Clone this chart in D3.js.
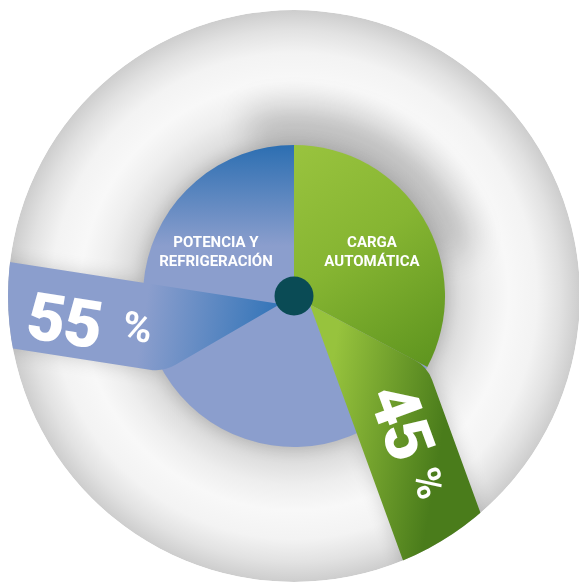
<!DOCTYPE html>
<html>
<head>
<meta charset="utf-8">
<script src="https://cdn.jsdelivr.net/npm/d3@7"></script>
<style>
  html, body { margin: 0; padding: 0; background: #fff; }
  text { font-family: Roboto, "Open Sans", sans-serif; fill: #fff; }
</style>
</head>
<body>
<div class="graph-view"></div>
<script>
// data
const categories = ['CARGA AUTOMÁTICA', 'POTENCIA Y REFRIGERACIÓN'];
const values = [45, 55];
const labelLines = [['CARGA', 'AUTOMÁTICA'], ['POTENCIA Y', 'REFRIGERACIÓN']];
const pctLabels = ['45', '55'];

const w = 579, h = 582;
const cx = 294, cy = 296;
const discR = 286, pieR = 151, dotR = 19.5;
const rad = Math.PI / 180;

const svg = d3.select('.graph-view').append('svg')
  .attr('width', w)
  .attr('height', h);

const defs = svg.append('defs');

// background disc gradient
const rg = defs.append('radialGradient')
  .attr('id', 'disc')
  .attr('gradientUnits', 'userSpaceOnUse')
  .attr('cx', cx).attr('cy', cy).attr('r', discR);
[[0.5, '#c9c9c9'], [0.57, '#dcdcdc'], [0.66, '#eeeeee'], [0.75, '#f8f8f8'],
 [0.85, '#f3f3f3'], [0.93, '#e2e2e2'], [1, '#cdcdcd']].forEach(function(s) {
  rg.append('stop').attr('offset', s[0]).attr('stop-color', s[1]);
});

function linGrad(id, x1, y1, x2, y2, stops) {
  const g = defs.append('linearGradient')
    .attr('id', id)
    .attr('gradientUnits', 'userSpaceOnUse')
    .attr('x1', x1).attr('y1', y1).attr('x2', x2).attr('y2', y2);
  stops.forEach(function(s) {
    g.append('stop').attr('offset', s[0]).attr('stop-color', s[1]);
  });
}

// sectors (coords relative to centre)
linGrad('greenSector', -10, -150, 150, 80, [[0, '#9ac43f'], [0.45, '#86b532'], [1, '#5a911d']]);
linGrad('blueSector', 0, -150, 0, -50, [[0, '#2d6fb2'], [1, '#8b9ecd']]);
// ribbons (ribbon frame: x along ribbon, y across)
linGrad('greenRibbon', 90, -5, 150, -110, [[0, '#97c33d'], [1, '#4a7c1b']]);
linGrad('blueRibbon', 18, 0, 145, 0, [[0, '#3676b9'], [1, '#8b9ecd']]);

defs.append('filter')
  .attr('id', 'blur')
  .attr('x', '-30%').attr('y', '-30%').attr('width', '160%').attr('height', '160%')
  .append('feGaussianBlur').attr('stdDeviation', 9);

defs.append('filter')
  .attr('id', 'blurWide')
  .attr('x', '-50%').attr('y', '-50%').attr('width', '200%').attr('height', '200%')
  .append('feGaussianBlur').attr('stdDeviation', 16);

defs.append('clipPath').attr('id', 'discClip')
  .append('circle').attr('cx', cx).attr('cy', cy).attr('r', discR);

// pie angles
const pie = d3.pie().sort(null).value(function(d) { return d; });
const arcs = pie(values);

const green = arcs[0], blue = arcs[1];
const greenDir = green.endAngle - 2 * rad;      // ribbon heading
const greenSpread = 42 * rad;
const blueDir = blue.startAngle + 0.59 * (blue.endAngle - blue.startAngle);
const blueSpread = 39 * rad;
const greenEdge = greenDir - greenSpread;

const arc = d3.arc().innerRadius(0).outerRadius(pieR);

// ribbon outline in its own frame
function ribbonPath(spread, s1) {
  const s2 = pieR * Math.sin(spread),
    xc = pieR * Math.cos(spread),
    x0 = s1 / Math.tan(spread),
    k = 14,
    far = 330;
  const p = d3.path();
  p.moveTo(x0, -s1);
  p.lineTo(far, -s1);
  p.lineTo(far, -s2);
  p.lineTo(xc + k, -s2);
  p.quadraticCurveTo(xc, -s2, (pieR - k) * Math.cos(spread), -(pieR - k) * Math.sin(spread));
  p.closePath();
  return p.toString();
}

function frame(dir) {
  return 'translate(' + cx + ',' + cy + ') rotate(' + (dir / rad - 90) + ')';
}

function drawShapes(g, shadow) {
  g.append('path')
    .attr('transform', 'translate(' + cx + ',' + cy + ')')
    .attr('d', arc({startAngle: greenEdge, endAngle: blue.endAngle}))
    .attr('fill', shadow ? '#000' : 'url(#blueSector)');
  g.append('path')
    .attr('transform', frame(blueDir))
    .attr('d', ribbonPath(blueSpread, 10))
    .attr('fill', shadow ? '#000' : 'url(#blueRibbon)');
  g.append('path')
    .attr('transform', 'translate(' + cx + ',' + cy + ')')
    .attr('d', arc({startAngle: green.startAngle, endAngle: greenEdge}))
    .attr('fill', shadow ? '#000' : 'url(#greenSector)');
  g.append('path')
    .attr('transform', frame(greenDir))
    .attr('d', ribbonPath(greenSpread, 12))
    .attr('fill', shadow ? '#000' : 'url(#greenRibbon)');
}

const chart = svg.append('g').attr('clip-path', 'url(#discClip)');

chart.append('circle')
  .attr('cx', cx).attr('cy', cy).attr('r', discR)
  .attr('fill', 'url(#disc)');

// soft shade above the top-right of the pie
chart.append('path')
  .attr('transform', 'translate(' + cx + ',' + cy + ')')
  .attr('d', d3.arc().innerRadius(150).outerRadius(190)({startAngle: -15 * rad, endAngle: 75 * rad}))
  .attr('fill', '#000')
  .attr('opacity', 0.16)
  .attr('filter', 'url(#blurWide)');

const shadowG = chart.append('g')
  .attr('filter', 'url(#blur)')
  .attr('opacity', 0.16);
drawShapes(shadowG, true);

drawShapes(chart.append('g'), false);

// centre dot
svg.append('circle')
  .attr('cx', cx).attr('cy', cy).attr('r', dotR)
  .attr('fill', '#0a4b55');

// category labels
const labelAngles = [greenEdge / 2, -greenEdge / 2];
labelLines.forEach(function(lines, i) {
  const a = labelAngles[i];
  const lx = cx + 91 * Math.sin(a), ly = cy - 91 * Math.cos(a);
  const t = svg.append('text')
    .attr('text-anchor', 'middle')
    .attr('font-size', 15)
    .attr('font-weight', 700);
  lines.forEach(function(l, j) {
    t.append('tspan').attr('x', lx).attr('y', ly - 2 + j * 19).text(l);
  });
});

// percentage labels along ribbons
const gGreen = svg.append('g').attr('transform', frame(greenDir));
gGreen.append('text')
  .attr('x', 155).attr('y', -58)
  .attr('text-anchor', 'middle')
  .attr('dominant-baseline', 'central')
  .attr('font-size', 66).attr('font-weight', 900)
  .attr('letter-spacing', -1)
  .text(pctLabels[0]);
gGreen.append('text')
  .attr('x', 222).attr('y', -62)
  .attr('text-anchor', 'middle')
  .attr('dominant-baseline', 'central')
  .attr('font-size', 40).attr('font-weight', 700)
  .text('%');

const gBlue = svg.append('g').attr('transform', frame(blueDir) + ' rotate(180)');
gBlue.append('text')
  .attr('x', -223).attr('y', 60)
  .attr('text-anchor', 'middle')
  .attr('dominant-baseline', 'central')
  .attr('font-size', 66).attr('font-weight', 900)
  .attr('letter-spacing', -1)
  .text(pctLabels[1]);
gBlue.append('text')
  .attr('x', -150).attr('y', 55)
  .attr('text-anchor', 'middle')
  .attr('dominant-baseline', 'central')
  .attr('font-size', 40).attr('font-weight', 700)
  .text('%');
</script>
</body>
</html>
